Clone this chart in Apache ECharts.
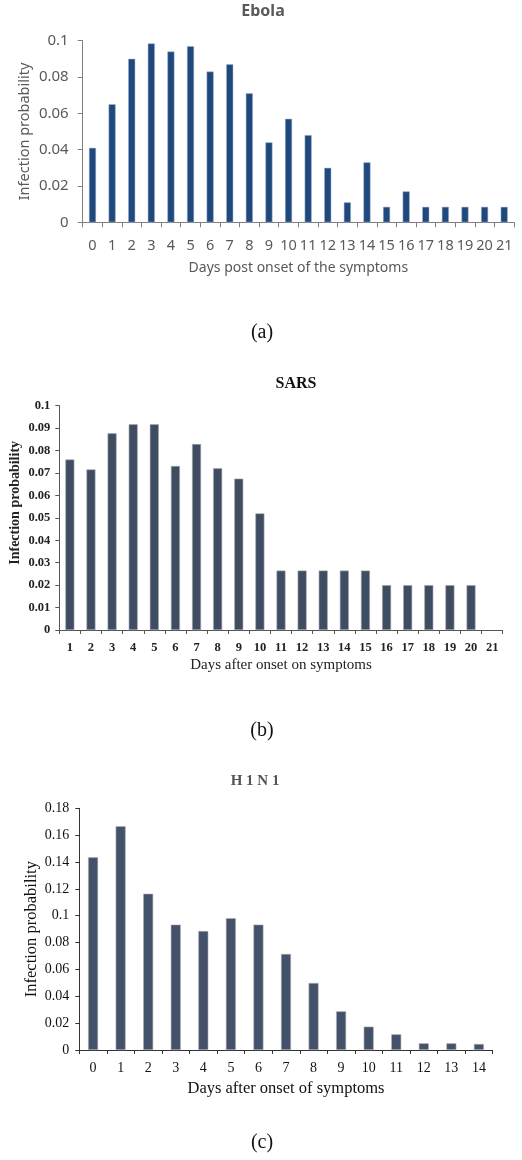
<!DOCTYPE html>
<html>
<head>
<meta charset="utf-8">
<script src="https://cdn.jsdelivr.net/npm/echarts@6/dist/echarts.min.js"></script>
<style>
html,body{margin:0;padding:0;background:#fff;}
#chart{width:522px;height:1160px;}
</style>
</head>
<body>
<div id="chart"></div>
<script>
// ---- Data ----
const ebolaDays = ['0','1','2','3','4','5','6','7','8','9','10','11','12','13','14','15','16','17','18','19','20','21'];
const ebolaValues = [0.041,0.065,0.090,0.0985,0.094,0.097,0.083,0.087,0.071,0.044,0.057,0.048,0.030,0.011,0.033,0.0085,0.017,0.0085,0.0085,0.0085,0.0085,0.0085];

const sarsDays = ['1','2','3','4','5','6','7','8','9','10','11','12','13','14','15','16','17','18','19','20','21'];
const sarsValues = [0.076,0.0716,0.0877,0.0917,0.0917,0.0731,0.0829,0.0721,0.0675,0.052,0.0265,0.0265,0.0265,0.0265,0.0265,0.02,0.02,0.02,0.02,0.02,null];

const h1n1Days = ['0','1','2','3','4','5','6','7','8','9','10','11','12','13','14'];
const h1n1Values = [0.1435,0.1666,0.1164,0.0934,0.0886,0.0981,0.0934,0.0715,0.0499,0.0288,0.0174,0.0117,0.005,0.005,0.0045];

const titles = ['Ebola','SARS','H1N1'];
const panelLabels = ['(a)','(b)','(c)'];
const yNames = ['Infection probability','Infection probability','Infection probability'];
const xNames = ['Days post onset of the symptoms','Days after onset on symptoms','Days after onset of symptoms'];

// ---- Chart ----
const chart = echarts.init(document.getElementById('chart'), null, {renderer:'canvas'});

const sans = 'Noto Sans';
const serif = 'Liberation Serif';

const option = {
  animation:false,
  backgroundColor:'#ffffff',
  title:[
    {text:titles[0], left:263, top:3, textAlign:'center', padding:0,
     textStyle:{fontFamily:sans, fontSize:16, fontWeight:'bold', color:'#595959'}},
    {text:titles[1], left:296, top:376, textAlign:'center', padding:0,
     textStyle:{fontFamily:serif, fontSize:16, fontWeight:'bold', color:'#111'}},
    {text:titles[2].split('').join(' '), left:255, top:774, textAlign:'center', padding:0,
     textStyle:{fontFamily:serif, fontSize:15, fontWeight:'bold', color:'#555'}},
    {text:panelLabels[0], left:262, top:323, textAlign:'center', padding:0,
     textStyle:{fontFamily:serif, fontSize:20, fontWeight:'normal', color:'#111'}},
    {text:panelLabels[1], left:262, top:721, textAlign:'center', padding:0,
     textStyle:{fontFamily:serif, fontSize:20, fontWeight:'normal', color:'#111'}},
    {text:panelLabels[2], left:262, top:1133, textAlign:'center', padding:0,
     textStyle:{fontFamily:serif, fontSize:20, fontWeight:'normal', color:'#111'}}
  ],
  grid:[
    {left:82.7, top:40.7, width:431.3, height:181.6},
    {left:59.3, top:405.7, width:443.4, height:224.3},
    {left:79.3, top:808.3, width:413.4, height:241.7}
  ],
  xAxis:[
    {type:'category', gridIndex:0, data:ebolaDays,
     name:xNames[0], nameLocation:'middle', nameGap:39, nameMoveOverlap:false,
     nameTextStyle:{fontFamily:sans, fontSize:14, color:'#595959'},
     axisLine:{lineStyle:{color:'#7f7f7f', width:1}},
     axisTick:{show:true, length:5, inside:false, lineStyle:{color:'#7f7f7f'}},
     axisLabel:{fontFamily:sans, fontSize:14.5, color:'#595959', margin:16, interval:0}},
    {type:'category', gridIndex:1, data:sarsDays,
     name:xNames[1], nameLocation:'middle', nameGap:28, nameMoveOverlap:false,
     nameTextStyle:{fontFamily:serif, fontSize:15, color:'#222'},
     axisLine:{lineStyle:{color:'#555', width:1}},
     axisTick:{show:true, length:4, lineStyle:{color:'#555'}},
     axisLabel:{fontFamily:serif, fontSize:12.5, fontWeight:'bold', color:'#222', margin:11, interval:0}},
    {type:'category', gridIndex:2, data:h1n1Days,
     name:xNames[2], nameLocation:'middle', nameGap:30, nameMoveOverlap:false,
     nameTextStyle:{fontFamily:serif, fontSize:16.5, color:'#111'},
     axisLine:{lineStyle:{color:'#333', width:1}},
     axisTick:{show:true, length:4, lineStyle:{color:'#333'}},
     axisLabel:{fontFamily:serif, fontSize:14, color:'#111', margin:11, interval:0}}
  ],
  yAxis:[
    {type:'value', gridIndex:0, min:0, max:0.1, interval:0.02,
     name:yNames[0], nameLocation:'middle', nameGap:50, nameMoveOverlap:false,
     nameTextStyle:{fontFamily:sans, fontSize:14.5, color:'#595959'},
     axisLine:{show:true, lineStyle:{color:'#7f7f7f'}},
     axisTick:{show:true, length:5, lineStyle:{color:'#7f7f7f'}},
     splitLine:{show:false},
     axisLabel:{fontFamily:sans, fontSize:15, color:'#595959', margin:14}},
    {type:'value', gridIndex:1, min:0, max:0.1, interval:0.01,
     name:yNames[1], nameLocation:'middle', nameGap:37, nameMoveOverlap:false,
     nameTextStyle:{fontFamily:serif, fontSize:14, fontWeight:'bold', color:'#222', padding:[0,0,0,30]},
     axisLine:{show:true, lineStyle:{color:'#555'}},
     axisTick:{show:true, length:4, lineStyle:{color:'#555'}},
     splitLine:{show:false},
     axisLabel:{fontFamily:serif, fontSize:12.5, fontWeight:'bold', color:'#222', margin:9}},
    {type:'value', gridIndex:2, min:0, max:0.18, interval:0.02,
     name:yNames[2], nameLocation:'middle', nameGap:39, nameMoveOverlap:false,
     nameTextStyle:{fontFamily:serif, fontSize:16.5, color:'#111'},
     axisLine:{show:true, lineStyle:{color:'#333'}},
     axisTick:{show:true, length:4, lineStyle:{color:'#333'}},
     splitLine:{show:false},
     axisLabel:{fontFamily:serif, fontSize:14, color:'#111', margin:10}}
  ],
  series:[
    {type:'bar', xAxisIndex:0, yAxisIndex:0, data:ebolaValues, barWidth:7,
     itemStyle:{color:'#1f497d', borderColor:'#9fb3cc', borderWidth:0.5}},
    {type:'bar', xAxisIndex:1, yAxisIndex:1, data:sarsValues, barWidth:9,
     itemStyle:{color:'#3f4d63', borderColor:'#a8a8a8', borderWidth:0.6}},
    {type:'bar', xAxisIndex:2, yAxisIndex:2, data:h1n1Values, barWidth:10,
     itemStyle:{color:'#44516a', borderColor:'#b0b0b0', borderWidth:0.6}}
  ]
};
chart.setOption(option);
</script>
</body>
</html>
